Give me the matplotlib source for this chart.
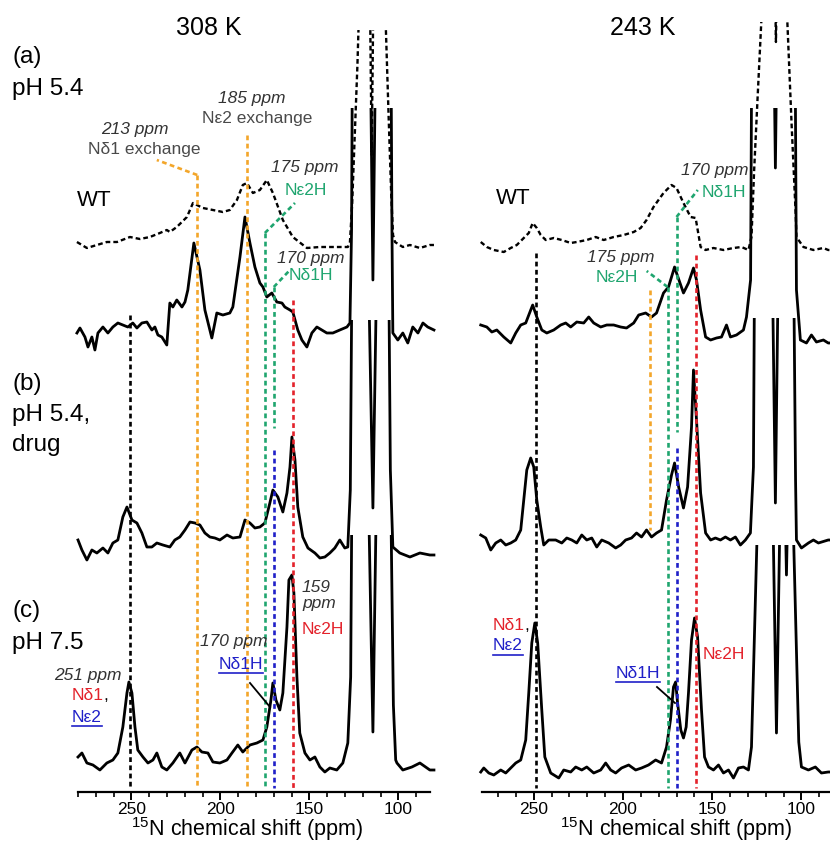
import matplotlib.pyplot as plt
from matplotlib.patches import Rectangle
from matplotlib.lines import Line2D
from matplotlib.ticker import MultipleLocator

plt.rcParams['font.family'] = ['Liberation Sans', 'DejaVu Sans']
plt.rcParams['mathtext.fontset'] = 'custom'
plt.rcParams['mathtext.rm'] = 'Liberation Sans'
plt.rcParams['mathtext.it'] = 'Liberation Sans:italic'

# ---- spectra: (ppm, intensity above the trace's own baseline) ----
left_wt = [(280.6, 3), (275.0, -3), (269.4, 0), (263.8, 3), (258.1, 3), (250.8, 8), (245.2, 6), (239.6, 8),
           (234.0, 12), (230.1, 15), (228.4, 13), (224.5, 18), (218.8, 28), (215.4, 42), (213.2, 40), (209.8, 37),
           (204.2, 35), (198.6, 33), (194.7, 35), (190.7, 45), (187.4, 60), (185.1, 62), (181.7, 52), (177.8, 55),
           (173.9, 65), (170.5, 52), (164.9, 25), (159.3, 8), (151.4, -3), (144.1, -2), (136.8, -2), (128.4, -2),
           (127.2, 3), (126.0, 40), (124.5, 110), (123.0, 180), (122.0, 240), (120.0, 500), (117.5, 500),
           (115.0, 90), (112.5, 500), (110.0, 500), (108.0, 300), (107.0, 215), (105.5, 130), (104.0, 50),
           (103.0, 10), (101.9, 3), (97.5, -2), (93.5, 0), (87.9, -3), (82.3, 0), (80.0, 0)]

left_a = [(280.6, -3), (278.9, 2), (276.1, -7), (274.4, -17), (272.2, -7), (270.5, -20), (268.8, -3), (266.0, 3),
          (263.2, -3), (260.4, 3), (257.6, 7), (254.8, 5), (252.0, 3), (249.2, 7), (246.9, 2), (244.1, 7),
          (241.3, 8), (238.5, 0), (236.8, 3), (235.1, -5), (232.9, -7), (230.1, -15), (228.4, 27), (226.7, 23),
          (224.5, 30), (221.6, 23), (219.9, 28), (218.3, 40), (214.9, 87), (211.5, 60), (208.7, 20), (204.8, -8),
          (202.0, 17), (198.6, 15), (194.7, 17), (193.0, 23), (189.0, 73), (186.2, 113), (183.4, 87), (180.6, 63),
          (177.8, 47), (176.1, 43), (173.9, 33), (171.1, 37), (168.3, 28), (165.4, 27), (163.8, 23), (160.9, 20),
          (159.3, 18), (156.5, 0), (154.2, -10), (151.4, -17), (148.6, -3), (145.8, 3), (143.0, 0), (140.2, -3),
          (136.8, -3), (132.9, 0), (128.9, 3), (127.2, 7), (126.3, 100), (125.5, 400), (118.0, 600),
          (116.5, 400), (114.3, 50), (112.0, 400), (110.0, 600), (104.5, 400), (103.6, 100), (103.1, -3),
          (100.3, -10), (97.5, -3), (94.7, -13), (91.9, 3), (89.0, -3), (86.2, 7), (83.5, 3), (80.0, 0)]

left_b = [(280.0, 10), (277.8, 0), (275.0, -10), (272.2, 0), (269.4, -3), (266.0, 2), (263.2, -3), (260.4, 7),
          (257.6, 10), (254.8, 33), (252.5, 43), (249.7, 30), (246.9, 27), (244.1, 17), (241.3, 3), (238.5, 3),
          (235.7, 7), (232.3, 5), (228.4, 3), (225.6, 10), (222.8, 13), (219.9, 20), (217.1, 28), (214.3, 27),
          (211.5, 25), (208.7, 17), (205.9, 13), (203.1, 12), (200.3, 10), (196.3, 15), (193.0, 12), (189.0, 13),
          (186.2, 30), (183.4, 27), (180.6, 22), (177.8, 23), (175.0, 27), (172.2, 47), (170.5, 60), (167.7, 53),
          (164.9, 38), (162.6, 57), (160.9, 83), (159.8, 113), (158.1, 90), (156.5, 43), (153.7, 13), (150.8, 2),
          (146.9, -3), (144.1, -8), (141.3, -7), (138.5, -3), (135.7, 2), (132.9, 10), (130.1, 2), (128.4, 3),
          (127.0, 60), (126.0, 300), (118.0, 500), (117.0, 300), (114.3, 42), (112.0, 300), (110.0, 500),
          (105.5, 300), (104.5, 80), (103.1, 3), (99.2, -3), (93.5, -7), (87.9, -3), (82.3, -5), (80.0, -5)]

left_c = [(280.0, 8), (277.8, 12), (275.0, 2), (271.6, 0), (267.7, -5), (263.8, 2), (260.4, 5), (257.6, 12),
          (254.8, 38), (252.5, 72), (251.4, 83), (249.7, 72), (248.0, 38), (246.4, 15), (243.5, 8), (240.7, 2),
          (237.9, 5), (235.7, 12), (232.9, -2), (230.1, -5), (226.7, 2), (222.8, 12), (219.9, 2), (216.0, 15),
          (213.2, 18), (210.4, 13), (207.0, 12), (204.2, 3), (200.3, 2), (196.3, 5), (193.5, 12), (190.2, 20),
          (187.4, 13), (183.4, 20), (179.5, 22), (176.1, 25), (173.9, 38), (171.6, 65), (170.5, 82), (168.8, 65),
          (166.6, 55), (164.9, 72), (162.6, 138), (161.5, 185), (159.8, 190), (158.7, 172), (157.0, 88),
          (155.4, 32), (152.5, 12), (149.7, 5), (146.9, 8), (144.1, -2), (141.3, -7), (138.5, -3), (134.6, -5),
          (131.2, 2), (128.4, 22), (126.8, 88), (126.0, 300), (118.5, 450), (117.1, 300), (114.3, 33),
          (112.1, 300), (110.0, 450), (104.5, 300), (102.8, 60), (101.5, 5), (100.8, 2), (97.5, -5), (92.4, -2),
          (87.9, 2), (82.3, -5), (80.0, -5)]

right_wt = [(279.7, 3), (276.3, -2), (272.4, -5), (266.8, -7), (262.9, -3), (259.5, 0), (255.6, 7), (252.8, 12),
            (250.6, 22), (248.3, 17), (246.1, 10), (243.3, 5), (238.8, 7), (234.3, 5), (229.3, 2), (225.9, 3),
            (220.3, 5), (215.3, 8), (210.8, 5), (205.2, 8), (199.6, 10), (194.0, 13), (190.1, 17), (186.8, 25),
            (182.9, 38), (177.3, 52), (172.8, 60), (170.0, 57), (166.1, 42), (162.1, 28), (159.3, 27), (156.5, -2),
            (153.7, -5), (149.3, -3), (143.7, -5), (138.1, -3), (133.6, -2), (129.7, -5), (128.0, 8), (126.5, 75),
            (124.5, 150), (122.5, 223), (121.0, 400), (116.0, 400), (114.3, 203), (112.5, 400), (109.0, 400),
            (107.9, 223), (105.5, 120), (103.2, 30), (102.8, 8), (98.9, -2), (93.3, -5), (87.7, -3), (85.0, -5),
            (83.0, -5)]

right_a = [(279.7, 5), (276.3, 3), (273.5, -2), (270.7, 0), (266.8, -7), (262.9, -13), (260.1, -3), (257.3, 5),
           (254.5, 7), (251.7, 20), (250.6, 25), (248.3, 13), (245.5, 0), (242.7, -3), (238.8, 0), (234.9, 5),
           (232.1, 7), (229.3, 3), (225.9, 8), (222.0, 7), (219.2, 13), (216.4, 7), (212.5, 3), (209.1, 5),
           (205.2, 5), (201.3, 3), (198.0, 2), (194.0, 7), (191.2, 15), (187.3, 17), (184.0, 13), (181.2, 17),
           (177.3, 37), (174.5, 43), (171.1, 63), (170.0, 57), (166.1, 37), (163.3, 47), (160.5, 62), (158.8, 50),
           (156.5, 20), (153.7, -7), (150.9, -10), (147.6, -8), (144.8, -7), (142.0, 5), (139.8, -7), (136.4, -5),
           (132.5, 0), (130.8, 13), (128.5, 50), (127.8, 300), (120.0, 500), (116.2, 400), (114.6, 162),
           (113.0, 400), (110.0, 500), (103.6, 300), (102.8, 40), (100.6, -10), (97.2, -13), (94.4, -5),
           (91.6, -12), (87.7, -10), (85.0, -13), (83.0, -13)]

right_b = [(279.7, 5), (276.9, 2), (274.1, -10), (271.3, -3), (268.5, 0), (265.7, -5), (262.9, -3), (260.1, 0),
           (257.3, 10), (255.6, 40), (253.9, 70), (251.7, 82), (250.0, 73), (248.3, 40), (246.1, 13), (244.4, -5),
           (241.6, 0), (237.7, 0), (234.3, -3), (231.5, 2), (228.7, 0), (225.9, -3), (223.1, 5), (220.3, 0),
           (217.5, 2), (214.7, -7), (211.9, 0), (208.0, -3), (204.1, -8), (201.3, -5), (198.5, 0), (195.2, 2),
           (192.4, 7), (189.6, 3), (186.8, 10), (184.0, 3), (181.2, 7), (178.4, 10), (175.6, 40), (172.8, 65),
           (171.1, 77), (168.8, 53), (166.1, 32), (163.8, 53), (161.6, 113), (160.5, 170), (158.8, 120),
           (156.5, 47), (153.7, 7), (150.9, 0), (148.2, 2), (145.4, 0), (142.6, 3), (139.8, 0), (137.0, 3),
           (134.2, -5), (131.4, 0), (128.6, 7), (126.9, 73), (126.2, 300), (118.0, 450), (116.5, 300),
           (114.6, 37), (112.8, 300), (110.0, 450), (104.5, 300), (103.3, 60), (102.8, 0), (100.0, -8),
           (96.1, -3), (93.3, 0), (90.5, -3), (85.0, 0), (83.0, 0)]

right_c = [(279.7, 0), (278.0, 4), (275.2, -1), (272.4, -3), (268.5, 2), (265.7, -1), (262.9, 4), (260.1, 9),
           (257.3, 12), (254.5, 32), (252.8, 79), (251.1, 129), (249.4, 149), (247.8, 129), (245.5, 62),
           (243.8, 15), (240.5, -1), (236.0, -6), (233.2, 2), (229.3, 0), (226.5, 5), (223.1, 2), (220.3, 5),
           (216.4, -1), (212.5, 2), (209.7, 9), (206.9, 2), (204.1, -1), (200.8, 4), (196.8, 7), (192.9, 2),
           (189.6, 4), (185.7, 7), (181.7, 12), (178.4, 9), (175.6, 25), (173.4, 52), (171.7, 85), (170.5, 90),
           (169.4, 69), (167.6, 42), (166.1, 34), (164.6, 45), (163.3, 79), (161.6, 132), (159.9, 154),
           (158.2, 135), (156.0, 62), (154.3, 15), (152.1, 5), (149.3, 2), (146.5, 7), (143.7, -1), (140.9, 2),
           (138.1, -6), (135.3, 4), (132.5, 5), (129.7, 2), (128.0, 25), (125.0, 227), (124.0, 350), (117.0, 350),
           (115.7, 227), (114.0, 39), (112.3, 227), (111.0, 300), (109.5, 300), (108.4, 197), (107.3, 300),
           (105.5, 300), (104.3, 227), (102.5, 100), (101.5, 30), (100.0, 5), (96.1, 2), (92.2, 5), (88.8, -1),
           (85.0, 0), (83.0, 0)]

# reference shifts (ppm) marked by vertical dashed lines
left_marks = [251, 213, 185, 175, 170, 170, 159]
right_marks = [249, 185, 175, 170, 170, 159]

# ---- layout (reference pixels; data y = 792 - pixel y) ----
W, H = 830, 844
ORANGE, GREEN, RED, BLUE = '#f3a62a', '#1fa56f', '#e3222b', '#2020c8'
GREY, DGREY = '#4a4a4a', '#333333'

left_base = [547, 462, 242, 27]
left_clip = [762, 684, 472, 257]
right_base = [547, 462, 252, 20]
right_clip = [770, 684, 474, 247]

left_mark_col = ['black', ORANGE, ORANGE, GREEN, GREEN, BLUE, RED]
left_mark_span = [(477, 4), (617, 4), (657, 4), (559, 4), (505, 364), (342, 4), (492, 4)]
right_mark_col = ['black', ORANGE, GREEN, GREEN, BLUE, RED]
right_mark_span = [(539, 4), (502, 262), (505, 4), (575, 360), (344, 4), (537, 4)]


def fx(x):
    return x / W


def fy(y):
    return 1 - y / H


fig = plt.figure(figsize=(W / 100, H / 100), dpi=100)
ax_l = fig.add_axes([fx(78), fy(792), fx(430.4) - fx(78), fy(0) - fy(792)])
ax_r = fig.add_axes([fx(482), fy(792), fx(830) - fx(482), fy(0) - fy(792)])
ax_l.set_xlim(280, 82)
ax_r.set_xlim(279, 84)

for ax in (ax_l, ax_r):
    ax.set_ylim(0, 792)
    ax.patch.set_visible(False)
    for s in ('left', 'right', 'top'):
        ax.spines[s].set_visible(False)
    ax.spines['bottom'].set_linewidth(1.6)
    ax.set_yticks([])
    ax.xaxis.set_major_locator(MultipleLocator(50))
    ax.xaxis.set_minor_locator(MultipleLocator(10))
    ax.tick_params(axis='x', which='major', length=6, width=1.4, labelsize=12.5, pad=1.0)
    ax.tick_params(axis='x', which='minor', length=3.5, width=1.2)


def trace(ax, pts, base, top, dashed=False):
    ppm, inten = zip(*pts)
    y = [base + v for v in inten]
    if dashed:
        line, = ax.plot(ppm, y, color='black', lw=1.7, ls=(0, (2, 1.3)))
    else:
        line, = ax.plot(ppm, y, color='black', lw=2.0, solid_joinstyle='round')
    line.set_clip_path(Rectangle((60, -100), 240, top + 100, transform=ax.transData))


def mark(ax, x, y0, y1, color, x2=None):
    ax.plot([x, x if x2 is None else x2], [y0, y1], color=color, lw=1.9, ls=(0, (1.8, 1.3)), zorder=4)


for pts, b, c, d in zip([left_wt, left_a, left_b, left_c], left_base, left_clip, [True, False, False, False]):
    trace(ax_l, pts, b, c, d)
for pts, b, c, d in zip([right_wt, right_a, right_b, right_c], right_base, right_clip, [True, False, False, False]):
    trace(ax_r, pts, b, c, d)

for x, col, (y0, y1) in zip(left_marks, left_mark_col, left_mark_span):
    mark(ax_l, x, y0, y1, col)
for x, col, (y0, y1) in zip(right_marks, right_mark_col, right_mark_span):
    mark(ax_r, x, y0, y1, col)

# slanted leaders to the labels
mark(ax_l, 213, 617, 632, ORANGE, 235.7)
mark(ax_l, 175, 559, 589, GREEN, 158.1)
mark(ax_l, 170, 505, 522, GREEN, 160.9)
mark(ax_r, 175, 505, 521, GREEN, 186.7)
mark(ax_r, 170, 575, 602, GREEN, 158.1)


def label(x, y, s, color='black', size=12.5, style='normal', ha='center'):
    return fig.text(fx(x), fy(y), s, color=color, fontsize=size, style=style, ha=ha, va='baseline')


label(209, 35, '308 K', size=18)
label(643, 35, '243 K', size=18)
label(12, 63, '(a)', size=17.5, ha='left')
label(12, 95, 'pH 5.4', size=17.5, ha='left')
label(12, 390, '(b)', size=17.5, ha='left')
label(12, 421, 'pH 5.4,', size=17.5, ha='left')
label(12, 451, 'drug', size=17.5, ha='left')
label(12, 617, '(c)', size=17.5, ha='left')
label(12, 649, 'pH 7.5', size=17.5, ha='left')
label(94, 206, 'WT', size=16)
label(513, 204, 'WT', size=16)

label(252, 103, '185 ppm', DGREY, style='italic')
label(257, 123, 'Nε2 exchange', GREY)
label(135, 134, '213 ppm', DGREY, style='italic')
label(144, 154, 'Nδ1 exchange', GREY)
label(305, 172, '175 ppm', DGREY, style='italic')
label(306, 195, 'Nε2H', GREEN)
label(311, 263, '170 ppm', DGREY, style='italic')
label(311, 280, 'Nδ1H', GREEN)
label(302, 592, '159', DGREY, style='italic', ha='left')
label(302, 608, 'ppm', DGREY, style='italic', ha='left')
label(302, 634, 'Nε2H', RED, ha='left')
label(234, 646, '170 ppm', DGREY, style='italic')
t1 = label(241, 669, 'Nδ1H', BLUE)
label(88, 680, '251 ppm', DGREY, style='italic')
c1 = label(72, 700, 'Nδ1', RED, ha='left')
t2 = label(72, 722, 'Nε2', BLUE, ha='left')

label(715, 175, '170 ppm', DGREY, style='italic')
label(724, 197, 'Nδ1H', GREEN)
label(621, 262, '175 ppm', DGREY, style='italic')
label(617, 282, 'Nε2H', GREEN)
c2 = label(493, 630, 'Nδ1', RED, ha='left')
t3 = label(493, 650, 'Nε2', BLUE, ha='left')
t4 = label(638, 678, 'Nδ1H', BLUE)
label(724, 659, 'Nε2H', RED)

label(247, 836, r'$^{15}$N chemical shift (ppm)', size=15.5)
label(676, 836, r'$^{15}$N chemical shift (ppm)', size=15.5)

# pointer lines
fig.add_artist(Line2D([fx(250), fx(270)], [fy(683), fy(707)], color='black', lw=1.3))
fig.add_artist(Line2D([fx(657), fx(675)], [fy(687), fy(703)], color='black', lw=1.3))

fig.canvas.draw()
r = fig.canvas.get_renderer()
for t, yy in ((t1, 673), (t2, 726), (t3, 655), (t4, 682)):
    bb = t.get_window_extent(r)
    fig.add_artist(Line2D([bb.x0 / W, bb.x1 / W], [fy(yy), fy(yy)], color=t.get_color(), lw=1.2))
for c, yy in ((c1, 700), (c2, 630)):
    bb = c.get_window_extent(r)
    fig.text((bb.x1 - 0.5) / W, fy(yy), ',', color='black', fontsize=12.5, va='baseline')

fig.savefig('out.png', dpi=100)
